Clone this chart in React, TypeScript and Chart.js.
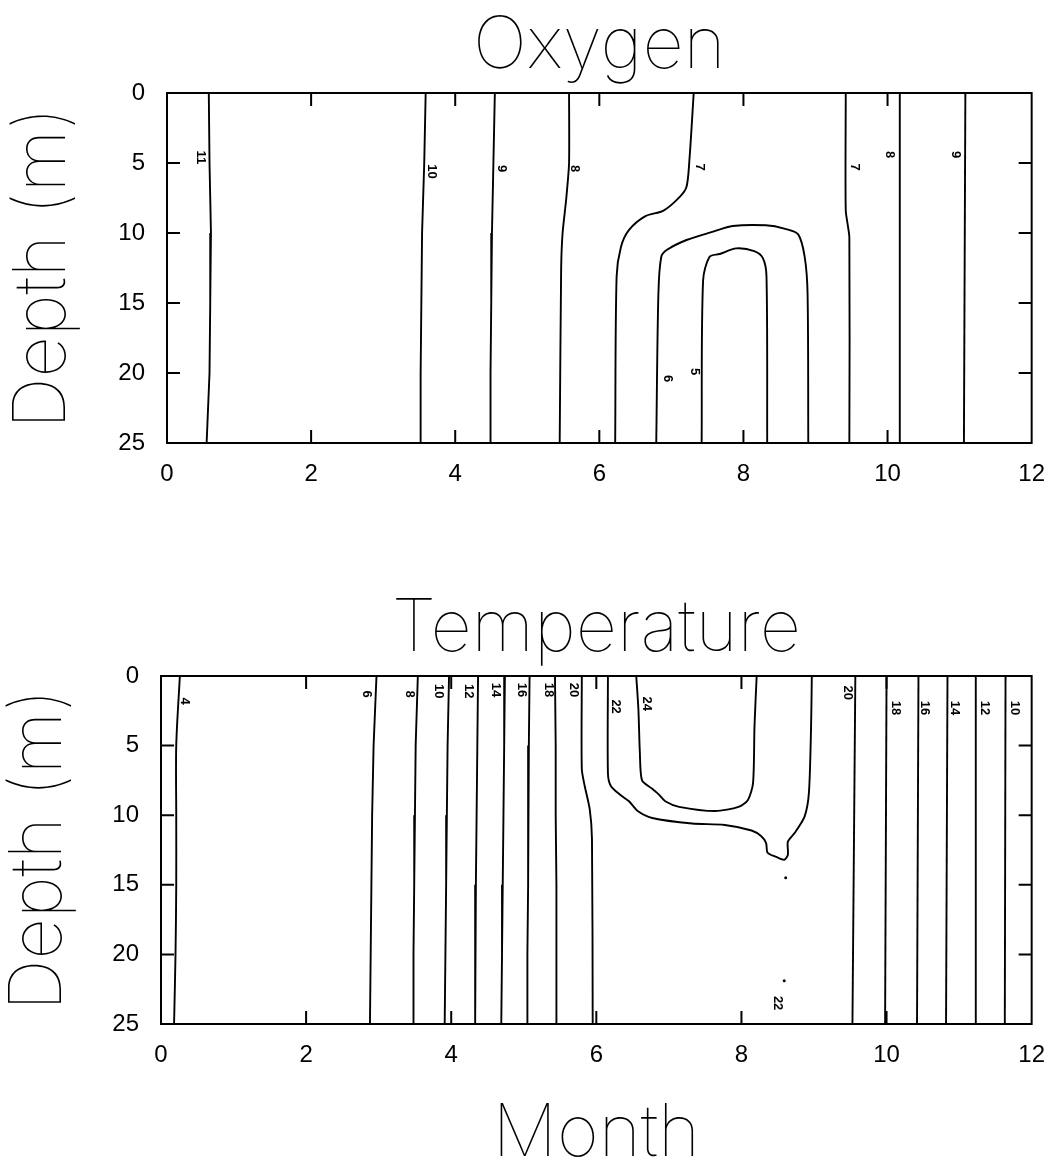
import React, { useEffect, useRef } from "react";
import { Chart, registerables } from "chart.js";

Chart.register(...registerables);

// ---------------- DATA ----------------
// Shared depth samples (m) for near-vertical isolines
const depthSteps = [0, 5, 10, 15, 20, 25];
const depthTopBottom = [0, 25];

// Oxygen isolines (month positions)
const oxy11Months = [0.58, 0.59, 0.61, 0.6, 0.59, 0.55];
const oxy10Months = [3.59, 3.57, 3.54, 3.53, 3.52, 3.52];
const oxy9Months = [4.55, 4.53, 4.51, 4.5, 4.49, 4.49];
const oxy8Depths = [0, 5, 7.6, 10, 12.6, 25];
const oxy8Months = [5.58, 5.58, 5.54, 5.49, 5.47, 5.45];
const oxy7aDepths = [0, 4.8, 6.7, 7.4, 8.4, 8.8, 9.8, 11.0, 13.1, 25];
const oxy7aMonths = [7.31, 7.25, 7.21, 7.12, 6.89, 6.64, 6.41, 6.3, 6.24, 6.22];
const oxy6Depths = [25, 14.3, 11.7, 11.2, 10.5, 9.9, 9.5, 9.45, 9.7, 10.1, 11.7, 14.3, 25];
const oxy6Months = [6.79, 6.82, 6.86, 6.94, 7.21, 7.58, 7.85, 8.31, 8.58, 8.76, 8.85, 8.89, 8.9];
const oxy5Depths = [25, 13.4, 11.7, 11.5, 11.1, 11.3, 11.8, 13.1, 25];
const oxy5Months = [7.42, 7.44, 7.53, 7.67, 7.9, 8.15, 8.27, 8.32, 8.33];
const oxy7bDepths = [0, 8.4, 10.3, 25];
const oxy7bMonths = [9.42, 9.42, 9.47, 9.47];
const oxy8bMonths = [10.17, 10.17];
const oxy9bMonths = [11.08, 11.06];

const oxyLabelText = ["11", "10", "9", "8", "7", "7", "8", "9", "6", "5"];
const oxyLabelMonth = [0.47, 3.67, 4.65, 5.66, 7.39, 9.54, 10.03, 10.95, 6.95, 7.32];
const oxyLabelDepth = [4.6, 5.6, 5.4, 5.4, 5.3, 5.3, 4.4, 4.4, 20.4, 19.9];

// Temperature isotherms (month positions)
const temp4Months = [0.26, 0.21, 0.21, 0.21, 0.2, 0.18];
const temp6Months = [2.97, 2.93, 2.91, 2.9, 2.89, 2.88];
const temp8Months = [3.54, 3.51, 3.5, 3.49, 3.48, 3.48];
const temp10Months = [3.97, 3.95, 3.94, 3.93, 3.92, 3.91];
const temp12Months = [4.37, 4.36, 4.35, 4.34, 4.33, 4.33];
const temp14Months = [4.74, 4.73, 4.72, 4.71, 4.7, 4.69];
const temp16Months = [5.08, 5.07, 5.06, 5.06, 5.05, 5.05];
const temp18Months = [5.43, 5.44, 5.44, 5.45, 5.45, 5.45];
const temp20aDepths = [0, 6.7, 7.9, 9.6, 11.7, 25];
const temp20aMonths = [5.8, 5.8, 5.84, 5.91, 5.94, 5.95];
const temp22Depths = [0, 7.0, 7.9, 8.5, 9.0, 9.7, 10.2, 10.6, 10.7, 11.1, 11.5, 12.0, 12.7, 13.0, 13.2, 12.85, 11.9, 11.3, 10.1, 8.4, 3.6, 0];
const temp22Months = [6.16, 6.16, 6.2, 6.32, 6.45, 6.57, 6.77, 7.32, 7.77, 8.14, 8.27, 8.34, 8.36, 8.48, 8.59, 8.64, 8.64, 8.73, 8.87, 8.93, 8.96, 8.97];
const temp24Depths = [0, 2.4, 5.5, 7.5, 8.1, 8.5, 9.0, 9.4, 9.7, 9.4, 8.9, 7.7, 3.6, 0];
const temp24Months = [6.55, 6.58, 6.6, 6.63, 6.77, 6.86, 6.95, 7.14, 7.64, 7.96, 8.09, 8.16, 8.18, 8.21];
const temp20bMonths = [9.57, 9.53];
const temp18bMonths = [10.0, 9.98];
const temp16bMonths = [10.44, 10.42];
const temp14bMonths = [10.84, 10.82];
const temp12bMonths = [11.23, 11.23];
const temp10bMonths = [11.64, 11.63];
const tempDotMonths = [8.61, 8.59];
const tempDotDepths = [14.5, 21.9];

const tempLabelText = ["4", "6", "8", "10", "12", "14", "16", "18", "20", "22", "24", "20", "18", "16", "14", "12", "10", "22"];
const tempLabelMonth = [0.33, 2.83, 3.42, 3.83, 4.24, 4.61, 4.97, 5.34, 5.68, 6.27, 6.69, 9.46, 10.12, 10.53, 10.94, 11.35, 11.76, 8.5];
const tempLabelDepth = [1.8, 1.3, 1.3, 1.1, 1.1, 1.0, 1.0, 1.0, 1.0, 2.2, 2.0, 1.2, 2.3, 2.3, 2.3, 2.3, 2.3, 23.5];

const monthTicks = [0, 2, 4, 6, 8, 10, 12];
const depthTicks = [0, 5, 10, 15, 20, 25];

// ---------------- HELPERS ----------------
type Line = { months: number[]; depths: number[]; tension?: number };

const oxyLines: Line[] = [
  { months: oxy11Months, depths: depthSteps },
  { months: oxy10Months, depths: depthSteps },
  { months: oxy9Months, depths: depthSteps },
  { months: oxy8Months, depths: oxy8Depths, tension: 0.2 },
  { months: oxy7aMonths, depths: oxy7aDepths, tension: 0.3 },
  { months: oxy6Months, depths: oxy6Depths, tension: 0.3 },
  { months: oxy5Months, depths: oxy5Depths, tension: 0.3 },
  { months: oxy7bMonths, depths: oxy7bDepths, tension: 0.2 },
  { months: oxy8bMonths, depths: depthTopBottom },
  { months: oxy9bMonths, depths: depthTopBottom },
];

const tempLines: Line[] = [
  { months: temp4Months, depths: depthSteps, tension: 0.3 },
  { months: temp6Months, depths: depthSteps },
  { months: temp8Months, depths: depthSteps },
  { months: temp10Months, depths: depthSteps },
  { months: temp12Months, depths: depthSteps },
  { months: temp14Months, depths: depthSteps },
  { months: temp16Months, depths: depthSteps },
  { months: temp18Months, depths: depthSteps },
  { months: temp20aMonths, depths: temp20aDepths, tension: 0.25 },
  { months: temp22Months, depths: temp22Depths, tension: 0.25 },
  { months: temp24Months, depths: temp24Depths, tension: 0.25 },
  { months: temp20bMonths, depths: depthTopBottom },
  { months: temp18bMonths, depths: depthTopBottom },
  { months: temp16bMonths, depths: depthTopBottom },
  { months: temp14bMonths, depths: depthTopBottom },
  { months: temp12bMonths, depths: depthTopBottom },
  { months: temp10bMonths, depths: depthTopBottom },
];

const TITLE_FONT = "Inter, 'Open Sans', Lato, sans-serif";
const TITLE_WEIGHT = "100";
const TITLE_SIZE = 72;
const TICK_FONT = "'Liberation Sans', Arial, sans-serif";

type Geo = {
  height: number;
  top: number;
  right: number;
  yWidth: number;
  xHeight: number;
  depthPadTop: number;
};

function ContourChart(props: {
  title: string;
  lines: Line[];
  labelText: string[];
  labelMonth: number[];
  labelDepth: number[];
  dotMonths?: number[];
  dotDepths?: number[];
  showMonth: boolean;
  geo: Geo;
}) {
  const ref = useRef<HTMLCanvasElement | null>(null);
  useEffect(() => {
    const canvas = ref.current;
    if (!canvas) return;
    const { geo } = props;

    const datasets: any[] = props.lines.map((l) => ({
      data: l.months.map((m, i) => ({ x: m, y: l.depths[i] })),
      showLine: true,
      borderColor: "#000",
      borderWidth: 1.9,
      pointRadius: 0,
      tension: l.tension ?? 0,
      fill: false,
    }));
    if (props.dotMonths && props.dotDepths) {
      datasets.push({
        data: props.dotMonths.map((m, i) => ({ x: m, y: props.dotDepths![i] })),
        showLine: false,
        pointRadius: 1.5,
        pointBackgroundColor: "#000",
        pointBorderWidth: 0,
      });
    }

    const framePlugin = {
      id: "frameTicks",
      afterDatasetsDraw(chart: any) {
        const { ctx, chartArea } = chart;
        const xs = chart.scales.x;
        const ys = chart.scales.y;
        const L = 13;
        ctx.save();
        ctx.strokeStyle = "#000";
        ctx.lineWidth = 2;
        ctx.strokeRect(chartArea.left, chartArea.top, chartArea.right - chartArea.left, chartArea.bottom - chartArea.top);
        ctx.beginPath();
        xs.ticks.forEach((t: any) => {
          if (t.value <= xs.min || t.value >= xs.max) return;
          const px = xs.getPixelForValue(t.value);
          ctx.moveTo(px, chartArea.bottom);
          ctx.lineTo(px, chartArea.bottom - L);
          ctx.moveTo(px, chartArea.top);
          ctx.lineTo(px, chartArea.top + L);
        });
        ys.ticks.forEach((t: any) => {
          if (t.value <= ys.min || t.value >= ys.max) return;
          const py = ys.getPixelForValue(t.value);
          ctx.moveTo(chartArea.left, py);
          ctx.lineTo(chartArea.left + L, py);
          ctx.moveTo(chartArea.right, py);
          ctx.lineTo(chartArea.right - L, py);
        });
        ctx.stroke();

        // contour labels
        ctx.fillStyle = "#000";
        ctx.font = "bold 13px " + TICK_FONT;
        ctx.textAlign = "center";
        ctx.textBaseline = "middle";
        props.labelText.forEach((txt, i) => {
          const px = xs.getPixelForValue(props.labelMonth[i]);
          const py = ys.getPixelForValue(props.labelDepth[i]);
          ctx.save();
          ctx.translate(px, py);
          ctx.rotate(Math.PI / 2);
          ctx.fillText(txt, 0, 0);
          ctx.restore();
        });

        // main title
        ctx.font = TITLE_WEIGHT + " " + TITLE_SIZE + "px " + TITLE_FONT;
        ctx.textAlign = "center";
        ctx.textBaseline = "alphabetic";
        ctx.fillText(props.title, (chartArea.left + chartArea.right) / 2, chartArea.top - 25);
        ctx.restore();
      },
    };

    const chart = new Chart(canvas, {
      type: "scatter",
      data: { datasets },
      options: {
        animation: false,
        responsive: false,
        maintainAspectRatio: false,
        layout: { padding: { left: 0, top: geo.top, right: geo.right, bottom: 0 } },
        plugins: {
          legend: { display: false },
          tooltip: { enabled: false },
          title: { display: false },
        },
        scales: {
          x: {
            type: "linear",
            min: 0,
            max: 12,
            afterBuildTicks: (s: any) => {
              s.ticks = monthTicks.map((v) => ({ value: v }));
            },
            ticks: {
              stepSize: 2,
              color: "#000",
              padding: 17,
              maxRotation: 0,
              font: { family: TICK_FONT, size: 24 },
            },
            grid: { display: false, drawTicks: false },
            border: { display: false },
            title: {
              display: props.showMonth,
              text: "Month",
              color: "#000",
              font: { family: TITLE_FONT, size: TITLE_SIZE, weight: TITLE_WEIGHT, lineHeight: 0.8 },
              padding: { top: 0, bottom: 1 },
            },
            afterFit: (s: any) => {
              s.height = geo.xHeight;
            },
          },
          y: {
            type: "linear",
            reverse: true,
            min: 0,
            max: 25,
            afterBuildTicks: (s: any) => {
              s.ticks = depthTicks.map((v) => ({ value: v }));
            },
            ticks: {
              stepSize: 5,
              color: "#000",
              padding: 22,
              font: { family: TICK_FONT, size: 24 },
            },
            grid: { display: false, drawTicks: false },
            border: { display: false },
            title: {
              display: true,
              text: "Depth (m)",
              color: "#000",
              font: { family: TITLE_FONT, size: TITLE_SIZE, weight: TITLE_WEIGHT, lineHeight: 1 },
              padding: { top: geo.depthPadTop, bottom: 0 },
            },
            afterFit: (s: any) => {
              s.width = geo.yWidth;
            },
          },
        },
      } as any,
      plugins: [framePlugin],
    });
    return () => chart.destroy();
  }, []);

  return (
    <canvas
      ref={ref}
      width={1062}
      height={props.geo.height}
      style={{ display: "block", width: 1062, height: props.geo.height }}
    />
  );
}

export default function App() {
  return (
    <div
      style={{
        position: "absolute",
        left: 0,
        top: 0,
        width: 1062,
        height: 1164,
        background: "#fff",
        overflow: "hidden",
      }}
    >
      <ContourChart
        title="Oxygen"
        lines={oxyLines}
        labelText={oxyLabelText}
        labelMonth={oxyLabelMonth}
        labelDepth={oxyLabelDepth}
        showMonth={false}
        geo={{ height: 560, top: 93, right: 19, yWidth: 167, xHeight: 117, depthPadTop: 7 }}
      />
      <ContourChart
        title="Temperature"
        lines={tempLines}
        labelText={tempLabelText}
        labelMonth={tempLabelMonth}
        labelDepth={tempLabelDepth}
        dotMonths={tempDotMonths}
        dotDepths={tempDotDepths}
        showMonth={true}
        geo={{ height: 604, top: 116, right: 23, yWidth: 161, xHeight: 140, depthPadTop: 3 }}
      />
    </div>
  );
}
